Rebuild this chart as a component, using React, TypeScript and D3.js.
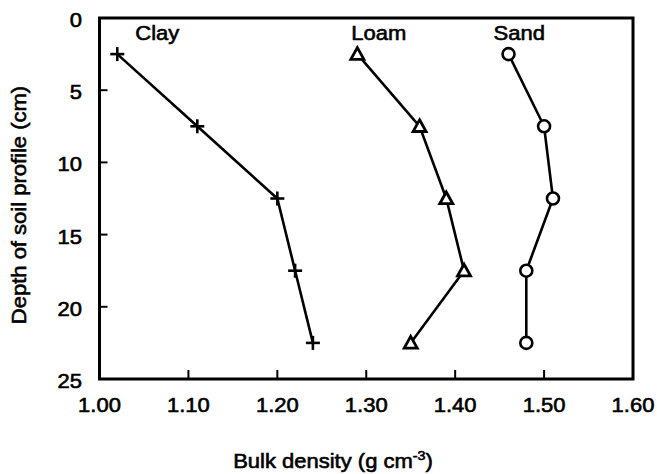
import React from "react";
import * as d3 from "d3";

const depths = [2.5, 7.5, 12.5, 17.5, 22.5];
const clay = [1.02, 1.11, 1.2, 1.22, 1.24];
const loam = [1.29, 1.36, 1.39, 1.41, 1.35];
const sand = [1.46, 1.5, 1.51, 1.48, 1.48];
const seriesNames = ["Clay", "Loam", "Sand"];
const labelX = [1.065, 1.314, 1.472];
const labelDepth = 1.55;
const xTicks = [1.0, 1.1, 1.2, 1.3, 1.4, 1.5, 1.6];
const yTicks = [0, 5, 10, 15, 20, 25];

const W = 657, H = 474;
const left = 99.5, right = 633, top = 18, bottom = 379;
const FONT = "'Liberation Sans', Arial, sans-serif";

export default function App() {
  const x = d3.scaleLinear().domain([1.0, 1.6]).range([left, right]);
  const y = d3.scaleLinear().domain([0, 25]).range([top, bottom]);
  const line = d3.line<[number, number]>().x(d => x(d[0])).y(d => y(d[1]));
  const all = [clay, loam, sand];
  const pts = (vals: number[]) => vals.map((v, i) => [v, depths[i]] as [number, number]);

  const marker = (kind: number, cx: number, cy: number, key: string) => {
    if (kind === 0) {
      return (
        <g key={key} stroke="#000" strokeWidth={2.6}>
          <line x1={cx - 7} x2={cx + 7} y1={cy} y2={cy} />
          <line x1={cx} x2={cx} y1={cy - 7} y2={cy + 7} />
        </g>
      );
    }
    if (kind === 1) {
      const s = 6.5;
      return (
        <path key={key} d={`M${cx},${cy - s}L${cx + s},${cy + s * 0.8}L${cx - s},${cy + s * 0.8}Z`}
          fill="#fff" stroke="#000" strokeWidth={2.8} strokeLinejoin="miter" />
      );
    }
    return <circle key={key} cx={cx} cy={cy} r={6} fill="#fff" stroke="#000" strokeWidth={2.6} />;
  };

  const sx = 1.1;
  const ts = { stroke: "#000", strokeWidth: 0.6 };
  return (
    <svg width={W} height={H} style={{ position: "absolute", left: 0, top: 0, background: "#fff" }}
      fontFamily={FONT}>
      <rect x={0} y={0} width={W} height={H} fill="#fff" />
      {/* frame */}
      <rect x={left} y={top} width={right - left} height={bottom - top} fill="none" stroke="#000" strokeWidth={3} />
      {/* x ticks */}
      {xTicks.map((t, i) => (
        <g key={"xt" + i}>
          {i > 0 && i < xTicks.length - 1 && (
            <line x1={x(t)} x2={x(t)} y1={bottom} y2={bottom - 9} stroke="#000" strokeWidth={2} />
          )}
          <text transform={`translate(${x(t)},${412}) scale(${sx},1)`} textAnchor="middle" fontSize={20} {...ts}>
            {t.toFixed(2)}
          </text>
        </g>
      ))}
      {/* y ticks */}
      {yTicks.map((t, i) => (
        <g key={"yt" + i}>
          {i > 0 && i < yTicks.length - 1 && (
            <line x1={left} x2={left + 8} y1={y(t)} y2={y(t)} stroke="#000" strokeWidth={2} />
          )}
          <text transform={`translate(82,${y(t) + 9}) scale(${sx},1)`} textAnchor="end" fontSize={20} {...ts}>
            {t}
          </text>
        </g>
      ))}
      {/* series */}
      {all.map((vals, si) => (
        <g key={"s" + si}>
          <path d={line(pts(vals)) || ""} fill="none" stroke="#000" strokeWidth={2.6} />
          {pts(vals).map((p, j) => marker(si, x(p[0]), y(p[1]), `m${si}-${j}`))}
        </g>
      ))}
      {/* series labels */}
      {seriesNames.map((n, i) => (
        <text key={"l" + i} transform={`translate(${x(labelX[i])},${y(labelDepth)}) scale(${sx},1)`}
          textAnchor="middle" fontSize={20} {...ts}>
          {n}
        </text>
      ))}
      {/* axis titles */}
      <text transform={`translate(333,468) scale(${sx},1)`} textAnchor="middle" fontSize={20} {...ts}>
        Bulk density (g cm<tspan fontSize={13} dy={-8}>-3</tspan><tspan dy={8}>)</tspan>
      </text>
      <text transform={`translate(26,205) rotate(-90) scale(${sx},1)`} textAnchor="middle" fontSize={20} {...ts}>
        Depth of soil profile (cm)
      </text>
    </svg>
  );
}
